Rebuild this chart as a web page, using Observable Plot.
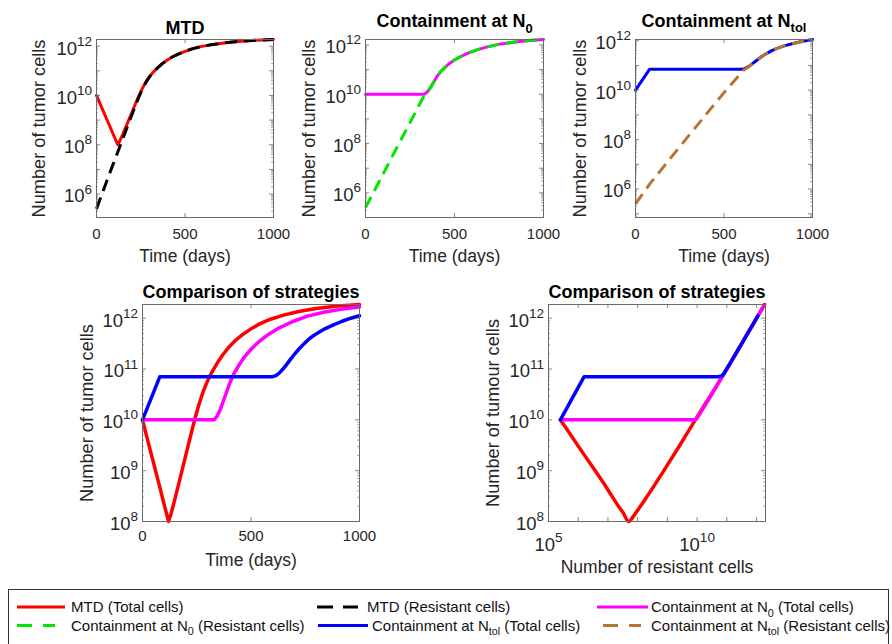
<!DOCTYPE html>
<html>
<head>
<meta charset="utf-8">
<script src="https://cdn.jsdelivr.net/npm/d3@7"></script>
<script src="https://cdn.jsdelivr.net/npm/@observablehq/plot@0.6"></script>
<style>
html, body { margin: 0; padding: 0; background: #fff; }
#page { position: relative; width: 892px; height: 644px; overflow: hidden; background: #fff; }
.panel { position: absolute; }
.panel svg { overflow: visible; display: block; }
#legend { position: absolute; left: 0; top: 0; overflow: visible; }
</style>
</head>
<body>
<div id="page"></div>
<script>
// ---------------- DATA ----------------
// MTD strategy
const mtdTime = [0, 40, 80, 100, 110, 120, 130, 140, 150, 182, 212, 240, 260, 280, 300, 320, 345, 370, 400, 430, 465, 500, 540, 590, 650, 720, 800, 900, 1000];
const mtdTotalCells = [1.00e10, 2.14e9, 4.68e8, 2.14e8, 1.48e8, 1.00e8, 1.35e8, 1.95e8, 2.82e8, 1.00e9, 3.31e9, 1.00e10, 2.00e10, 3.63e10, 5.89e10, 8.71e10, 1.32e11, 1.91e11, 2.75e11, 3.72e11, 4.90e11, 6.17e11, 7.76e11, 9.55e11, 1.15e12, 1.35e12, 1.55e12, 1.74e12, 1.86e12];
const mtdResistantCells = [2.51e5, 1.51e6, 8.91e6, 2.09e7, 3.24e7, 5.01e7, 7.76e7, 1.20e8, 1.86e8, 7.59e8, 2.75e9, 8.71e9, 1.82e10, 3.47e10, 5.75e10, 8.71e10, 1.32e11, 1.91e11, 2.75e11, 3.72e11, 4.90e11, 6.17e11, 7.76e11, 9.55e11, 1.15e12, 1.35e12, 1.55e12, 1.74e12, 1.86e12];

// Containment at N0
const n0Time = [0, 100, 200, 300, 330, 345, 360, 380, 400, 420, 445, 470, 500, 540, 580, 630, 690, 760, 840, 920, 1000];
const n0TotalCells = [1.00e10, 1.00e10, 1.00e10, 1.00e10, 1.00e10, 1.20e10, 1.66e10, 2.88e10, 5.01e10, 7.94e10, 1.20e11, 1.74e11, 2.45e11, 3.55e11, 4.79e11, 6.46e11, 8.51e11, 1.10e12, 1.32e12, 1.51e12, 1.66e12];
const n0ResistantCells = [2.51e5, 6.03e6, 1.45e8, 3.47e9, 8.91e9, 1.12e10, 1.58e10, 2.82e10, 4.90e10, 7.94e10, 1.20e11, 1.74e11, 2.45e11, 3.55e11, 4.79e11, 6.46e11, 8.51e11, 1.10e12, 1.32e12, 1.51e12, 1.66e12];

// Containment at Ntol
const ntolTime = [0, 80, 200, 300, 400, 500, 600, 615, 630, 645, 660, 680, 700, 720, 745, 770, 800, 840, 880, 920, 960, 1000];
const ntolTotalCells = [1.00e10, 7.08e10, 7.08e10, 7.08e10, 7.08e10, 7.08e10, 7.08e10, 7.41e10, 8.32e10, 9.77e10, 1.17e11, 1.51e11, 1.95e11, 2.45e11, 3.16e11, 3.98e11, 4.90e11, 6.17e11, 7.41e11, 8.71e11, 1.00e12, 1.12e12];
const ntolResistantCells = [2.51e5, 1.58e6, 1.86e7, 1.41e8, 1.07e9, 7.94e9, 5.25e10, 6.92e10, 8.13e10, 9.55e10, 1.17e11, 1.51e11, 1.95e11, 2.45e11, 3.16e11, 3.98e11, 4.90e11, 6.17e11, 7.41e11, 8.71e11, 1.00e12, 1.12e12];

// Tick labels
const timeTicks = [0, 500, 1000];
const topPanelYTicks = [1e6, 1e8, 1e10, 1e12];
const bottomPanelYTicks = [1e8, 1e9, 1e10, 1e11, 1e12];
const resistantXTicks = [1e5, 1e10];
const resistantXDecades = [1e5, 1e6, 1e7, 1e8, 1e9, 1e10, 1e11, 1e12];

// Texts
const panelTitles = ["MTD", "Containment at N_{0}", "Containment at N_{tol}", "Comparison of strategies", "Comparison of strategies"];
const legendLabels = [
  "MTD (Total cells)", "MTD (Resistant cells)", "Containment at N_{0} (Total cells)",
  "Containment at N_{0} (Resistant cells)", "Containment at N_{tol} (Total cells)", "Containment at N_{tol} (Resistant cells)"
];

// ---------------- helpers ----------------
const rows = (time, total, resistant) => time.map((t, i) => ({t, total: total[i], resistant: resistant[i]}));
const mtdRows = rows(mtdTime, mtdTotalCells, mtdResistantCells);
const n0Rows = rows(n0Time, n0TotalCells, n0ResistantCells);
const ntolRows = rows(ntolTime, ntolTotalCells, ntolResistantCells);

const FONT = '"Liberation Sans", Arial, Helvetica, sans-serif';
const TXT = "#262626";
const AX = "#6a6a6a";
const COLORS = {mtdT: "#ff0000", mtdR: "#000000", n0T: "#ff00ff", n0R: "#00e600", tolT: "#0000ff", tolR: "#b87333"};
const DASH = "12,7";
const expFormat = d => `10^{${Math.round(Math.log10(d))}}`;
const NS = "http://www.w3.org/2000/svg";

function richText(el, shift = 0, ratio = 0.72, raise = 0.42) {
  const s = el.textContent;
  if (!/[\^_]\{/.test(s)) return;
  const base = parseFloat(getComputedStyle(el).fontSize) || 16;
  el.textContent = "";
  const re = /([\^_])\{([^}]*)\}/g;
  let last = 0, m, cur = -shift;
  const add = (txt, target, small) => {
    const t = document.createElementNS(NS, "tspan");
    t.textContent = txt;
    const dy = target - cur;
    if (dy) t.setAttribute("dy", dy.toFixed(2));
    if (small) t.setAttribute("font-size", (base * ratio).toFixed(2));
    cur = target;
    el.appendChild(t);
  };
  while ((m = re.exec(s))) {
    if (m.index > last) add(s.slice(last, m.index), 0, false);
    add(m[2], m[1] === "^" ? -raise * base : 0.32 * base, true);
    last = re.lastIndex;
  }
  if (last < s.length) add(s.slice(last), 0, false);
}

const page = document.getElementById("page");

function panel(cfg) {
  const ml = 100, mr = 30, mt = 50, mb = 70;
  const {fx, fy, fw, fh} = cfg;
  const yAll = d3.scaleLog().domain(cfg.yDomain).ticks();
  const isDecade = v => Math.abs(Math.log10(v) - Math.round(Math.log10(v))) < 1e-9;
  const yMajor = yAll.filter(isDecade);
  const yMinor = yAll.filter(v => !isDecade(v));
  const marks = [];
  for (const s of cfg.series) {
    marks.push(Plot.line(s.data, {
      x: s.x, y: s.y, stroke: s.color, strokeWidth: cfg.lineWidth,
      strokeDasharray: s.dash || null, curve: s.curve || "linear",
      strokeLinejoin: "round", strokeLinecap: s.dash ? "butt" : "round"
    }));
  }
  marks.push(Plot.frame({stroke: AX, strokeWidth: 1}));
  marks.push(Plot.tickY(yMajor, {y: d => d, insetRight: fw - 4, stroke: AX, strokeWidth: 0.8}));
  marks.push(Plot.tickY(yMajor, {y: d => d, insetLeft: fw - 4, stroke: AX, strokeWidth: 0.8}));
  marks.push(Plot.tickY(yMinor, {y: d => d, insetRight: fw - 2, stroke: AX, strokeWidth: 0.6}));
  marks.push(Plot.tickY(yMinor, {y: d => d, insetLeft: fw - 2, stroke: AX, strokeWidth: 0.6}));
  marks.push(Plot.tickX(cfg.xMajor, {x: d => d, insetTop: fh - 4, stroke: AX, strokeWidth: 0.8}));
  marks.push(Plot.tickX(cfg.xMajor, {x: d => d, insetBottom: fh - 4, stroke: AX, strokeWidth: 0.8}));
  marks.push(Plot.axisY(cfg.yLabeled, {anchor: "left", tickSize: 0, tickPadding: 4.5, tickFormat: expFormat, label: null, fontSize: 18.5, fill: TXT}));
  marks.push(Plot.axisX(cfg.xLabeled, {anchor: "bottom", tickSize: 0, tickPadding: cfg.xTickPad, tickFormat: cfg.xFormat, label: null, fontSize: cfg.xTickFont, fill: TXT}));
  marks.push(Plot.text([cfg.title], {text: d => d, frameAnchor: "top", textAnchor: "middle", dy: cfg.titleDy, lineAnchor: "bottom", fontSize: 18, fontWeight: "bold", fill: "#000"}));
  marks.push(Plot.text([cfg.xLabel], {text: d => d, frameAnchor: "bottom", textAnchor: "middle", dy: cfg.xLabelDy, lineAnchor: "middle", fontSize: 17.5, fill: TXT}));
  marks.push(Plot.text([cfg.yLabel], {text: d => d, frameAnchor: "left", textAnchor: "middle", dx: -cfg.yLabelOffset, rotate: -90, lineAnchor: "middle", fontSize: 18.2, fill: TXT}));

  const svg = Plot.plot({
    width: fw + ml + mr, height: fh + mt + mb,
    marginLeft: ml, marginRight: mr, marginTop: mt, marginBottom: mb,
    x: {type: cfg.xType, domain: cfg.xDomain},
    y: {type: "log", domain: cfg.yDomain},
    style: {fontFamily: FONT, background: "transparent", overflow: "visible", color: TXT},
    marks
  });
  const div = document.createElement("div");
  div.className = "panel";
  div.style.left = (fx - ml) + "px";
  div.style.top = (fy - mt) + "px";
  div.appendChild(svg);
  page.appendChild(div);
  svg.querySelectorAll("text").forEach(el => {
    if (/^10\^\{\d+\}$/.test(el.textContent)) {
      const isY = !!el.closest('g[aria-label^="y-axis"]');
      richText(el, isY ? 2.5 : 0, 0.73, 0.48);
    } else {
      richText(el);
    }
  });
}

const timeFmt = d => String(d);

panel({
  fx: 96, fy: 39, fw: 177, fh: 178, xType: "linear", xDomain: [0, 1000], yDomain: [1.12e5, 1.86e12],
  series: [
    {data: mtdRows, x: "t", y: "total", color: COLORS.mtdT},
    {data: mtdRows, x: "t", y: "resistant", color: COLORS.mtdR, dash: DASH}
  ],
  lineWidth: 3, xMajor: timeTicks, xLabeled: timeTicks, yLabeled: topPanelYTicks, xFormat: timeFmt, xTickFont: 15,
  xTickPad: 11, title: panelTitles[0], titleDy: -5.7, xLabel: "Time (days)", xLabelDy: 39,
  yLabel: "Number of tumor cells", yLabelOffset: 57
});
panel({
  fx: 365, fy: 39, fw: 178, fh: 178, xType: "linear", xDomain: [0, 1000], yDomain: [1.0e5, 1.66e12],
  series: [
    {data: n0Rows, x: "t", y: "total", color: COLORS.n0T},
    {data: n0Rows, x: "t", y: "resistant", color: COLORS.n0R, dash: DASH}
  ],
  lineWidth: 3, xMajor: timeTicks, xLabeled: timeTicks, yLabeled: topPanelYTicks, xFormat: timeFmt, xTickFont: 15,
  xTickPad: 11, title: panelTitles[1], titleDy: -12.3, xLabel: "Time (days)", xLabelDy: 39,
  yLabel: "Number of tumor cells", yLabelOffset: 56
});
panel({
  fx: 635, fy: 39, fw: 177, fh: 178, xType: "linear", xDomain: [0, 1000], yDomain: [7.08e4, 1.12e12],
  series: [
    {data: ntolRows, x: "t", y: "total", color: COLORS.tolT},
    {data: ntolRows, x: "t", y: "resistant", color: COLORS.tolR, dash: DASH}
  ],
  lineWidth: 3, xMajor: timeTicks, xLabeled: timeTicks, yLabeled: topPanelYTicks, xFormat: timeFmt, xTickFont: 15,
  xTickPad: 11, title: panelTitles[2], titleDy: -13, xLabel: "Time (days)", xLabelDy: 39,
  yLabel: "Number of tumor cells", yLabelOffset: 55
});
panel({
  fx: 142, fy: 304, fw: 217, fh: 217, xType: "linear", xDomain: [0, 1000], yDomain: [1e8, 1.86e12],
  series: [
    {data: mtdRows, x: "t", y: "total", color: COLORS.mtdT},
    {data: n0Rows, x: "t", y: "total", color: COLORS.n0T},
    {data: ntolRows, x: "t", y: "total", color: COLORS.tolT}
  ],
  lineWidth: 3.5, xMajor: timeTicks, xLabeled: timeTicks, yLabeled: bottomPanelYTicks, xFormat: timeFmt, xTickFont: 15,
  xTickPad: 9, title: panelTitles[3], titleDy: -6.7, xLabel: "Time (days)", xLabelDy: 39,
  yLabel: "Number of tumor cells", yLabelOffset: 55
});
panel({
  fx: 548, fy: 304, fw: 217, fh: 217, xType: "log", xDomain: [1e5, 2.0e12], yDomain: [1e8, 1.86e12],
  series: [
    {data: mtdRows, x: "resistant", y: "total", color: COLORS.mtdT, curve: "monotone-x"},
    {data: n0Rows, x: "resistant", y: "total", color: COLORS.n0T},
    {data: ntolRows, x: "resistant", y: "total", color: COLORS.tolT}
  ],
  lineWidth: 3.5, xMajor: resistantXDecades, xLabeled: resistantXTicks, yLabeled: bottomPanelYTicks, xFormat: expFormat, xTickFont: 18.5,
  xTickPad: 16, title: panelTitles[4], titleDy: -6.7, xLabel: "Number of resistant cells", xLabelDy: 45.5,
  yLabel: "Number of tumour cells", yLabelOffset: 55.5
});

// ---------------- legend ----------------
const legendStyles = [
  {color: COLORS.mtdT, dash: null}, {color: COLORS.mtdR, dash: "16,10"}, {color: COLORS.n0T, dash: null},
  {color: COLORS.n0R, dash: "15,11"}, {color: COLORS.tolT, dash: null}, {color: COLORS.tolR, dash: "15,11"}
];
const legendLayout = [
  {lx: 17, lw: 48, tx: 71, row: 0}, {lx: 317, lw: 41, tx: 367, row: 0}, {lx: 597, lw: 51, tx: 651, row: 0},
  {lx: 17, lw: 38, tx: 71, row: 1}, {lx: 318, lw: 50, tx: 372, row: 1}, {lx: 603, lw: 38, tx: 651, row: 1}
];
const rowBaseline = [612, 630.5];
const lsvg = d3.create("svg").attr("id", "legend").attr("width", 892).attr("height", 644)
  .style("font-family", FONT).style("font-size", "15px");
lsvg.append("rect").attr("x", 8.5).attr("y", 589.5).attr("width", 880).attr("height", 62)
  .attr("fill", "#fff").attr("stroke", "#333").attr("stroke-width", 1);
legendLabels.forEach((label, i) => {
  const L = legendLayout[i], S = legendStyles[i];
  const by = rowBaseline[L.row];
  lsvg.append("line").attr("x1", L.lx).attr("x2", L.lx + L.lw).attr("y1", by - 5).attr("y2", by - 5)
    .attr("stroke", S.color).attr("stroke-width", 3).attr("stroke-dasharray", S.dash);
  lsvg.append("text").attr("x", L.tx).attr("y", by).attr("fill", "#111").text(label);
});
page.appendChild(lsvg.node());
lsvg.node().querySelectorAll("text").forEach(el => richText(el));
</script>
</body>
</html>
